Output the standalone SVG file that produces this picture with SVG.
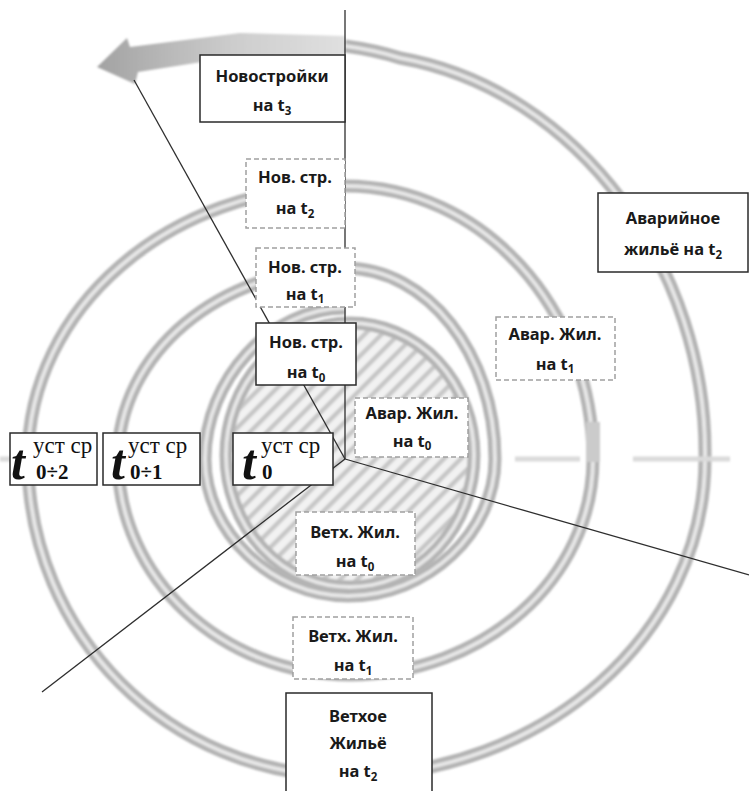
<svg xmlns="http://www.w3.org/2000/svg" width="749" height="791" viewBox="0 0 749 791">
<defs>
<style>
.lbl{font-family:"Noto Sans","Open Sans","DejaVu Sans",sans-serif;font-weight:700;font-size:16.5px;fill:#1a1a1a;text-anchor:middle}
.sub{font-size:11.5px}
.solid{fill:#fff;stroke:#2a2a2a;stroke-width:1.5}
.dash{fill:#fff;stroke:#a0a0a0;stroke-width:1.5;stroke-dasharray:5 3}
.ring{fill:none;stroke:#b4b4b4;stroke-width:13}
.gap{fill:none;stroke:#e6e6e6;stroke-width:4}
.conn{fill:none;stroke:#2e2e2e;stroke-width:1.3}
.tb{font-family:"Liberation Serif","Times New Roman",serif;fill:#111}
</style>
<filter id="blur" x="-5%" y="-5%" width="110%" height="110%"><feGaussianBlur stdDeviation="1.3"/></filter>
<pattern id="hatch" patternUnits="userSpaceOnUse" width="12" height="12" patternTransform="rotate(45)">
<rect width="12" height="12" fill="#f2f2f2"/>
<rect x="0" y="0" width="4.5" height="12" fill="#c6c6c6"/>
</pattern>
<linearGradient id="arrowGrad" x1="97" y1="0" x2="345" y2="0" gradientUnits="userSpaceOnUse">
<stop offset="0" stop-color="#a2a2a2"/>
<stop offset="0.55" stop-color="#cdcdcd"/>
<stop offset="1" stop-color="#e0e0e0"/>
</linearGradient>
<path id="spiral" d="M345 308 C270.5 308 205 380 205 459 C205 532 271.8 596 348 596 C428 596 495 532 495 459 C495 353.6 426.7 268 345 268 C219.7 268 118 353.6 118 459 C118 578.2 221.9 675 350 675 C484.1 675 593 578.2 593 459 C593 308.3 481.9 186 345 186 C168.9 186 28 308.3 28 459 C28 634 168.9 776 345 776 C543.7 776 705 634 705 459 C708 270 580 90 400 58 Q375 50 345 46"/>
</defs>
<rect width="749" height="791" fill="#ffffff"/>
<g id="background" filter="url(#blur)">
<ellipse cx="350" cy="455" rx="118" ry="126" fill="url(#hatch)"/>
<ellipse class="ring" cx="350" cy="455" rx="124" ry="132" stroke-width="11"/>
<ellipse class="gap" cx="350" cy="455" rx="124" ry="132"/>
<use href="#spiral" class="ring"/>
<use href="#spiral" class="gap"/>
<rect x="586" y="422" width="14" height="40" fill="#cbcbcb"/>
<path d="M0 459 H14 M515 459 H580 M633 459 H730" stroke="#dadada" stroke-width="5" fill="none"/>
<path d="M130 47 L240 33 L345 36 L345 56 L240 56 L138 72 L135 84 L97 67 L127 38 Z" fill="url(#arrowGrad)"/>
</g>
<g id="connectors">
<line class="conn" x1="345" y1="10" x2="345" y2="459"/>
<line class="conn" x1="345" y1="459" x2="134" y2="80"/>
<line class="conn" x1="345" y1="459" x2="749" y2="575"/>
<line class="conn" x1="345" y1="459" x2="42" y2="692"/>
</g>
<g id="novostroiki-t3">
<rect class="solid" x="200" y="55" width="145" height="67"/>
<text class="lbl" x="272" y="82">Новостройки</text>
<text class="lbl" x="272" y="111">на t<tspan class="sub" dy="4">3</tspan></text>
</g>
<g id="nov-str-t2">
<rect class="dash" x="246" y="159" width="99" height="69"/>
<text class="lbl" x="295" y="183">Нов. стр.</text>
<text class="lbl" x="295" y="214">на t<tspan class="sub" dy="4">2</tspan></text>
</g>
<g id="nov-str-t1">
<rect class="dash" x="256" y="248" width="99" height="59"/>
<text class="lbl" x="305" y="273">Нов. стр.</text>
<text class="lbl" x="305" y="300">на t<tspan class="sub" dy="3">1</tspan></text>
</g>
<g id="nov-str-t0">
<rect class="solid" x="256" y="323" width="100" height="62"/>
<text class="lbl" x="306" y="348">Нов. стр.</text>
<text class="lbl" x="306" y="378">на t<tspan class="sub" dy="4">0</tspan></text>
</g>
<g id="avar-t0">
<rect class="dash" x="355" y="398" width="113" height="59"/>
<text class="lbl" x="412" y="419">Авар. Жил.</text>
<text class="lbl" x="412" y="447">на t<tspan class="sub" dy="3">0</tspan></text>
</g>
<g id="avar-t1">
<rect class="dash" x="496" y="317" width="119" height="63"/>
<text class="lbl" x="555" y="340">Авар. Жил.</text>
<text class="lbl" x="555" y="370">на t<tspan class="sub" dy="3">1</tspan></text>
</g>
<g id="avar-t2">
<rect class="solid" x="598" y="193" width="150" height="79"/>
<text class="lbl" x="673" y="224">Аварийное</text>
<text class="lbl" x="673" y="255">жильё на t<tspan class="sub" dy="4">2</tspan></text>
</g>
<g id="veth-t0">
<rect class="dash" x="296" y="512" width="119" height="63"/>
<text class="lbl" x="355" y="538">Ветх. Жил.</text>
<text class="lbl" x="355" y="567">на t<tspan class="sub" dy="4">0</tspan></text>
</g>
<g id="veth-t1">
<rect class="dash" x="293" y="617" width="120" height="62"/>
<text class="lbl" x="353" y="642">Ветх. Жил.</text>
<text class="lbl" x="353" y="671">на t<tspan class="sub" dy="4">1</tspan></text>
</g>
<g id="veth-t2">
<rect class="solid" x="286" y="693" width="146" height="110"/>
<text class="lbl" x="358" y="722">Ветхое</text>
<text class="lbl" x="358" y="749">Жильё</text>
<text class="lbl" x="358" y="777">на t<tspan class="sub" dy="4">2</tspan></text>
</g>
<g id="t0-2">
<rect class="solid" x="10" y="433" width="87" height="52"/>
<text class="tb" x="11" y="479" font-size="50" font-weight="700" font-style="italic">t</text>
<text class="tb" x="33" y="453" font-size="23">уст ср</text>
<text class="tb" x="36" y="479" font-size="21" font-weight="700">0÷2</text>
</g>
<g id="t0-1">
<rect class="solid" x="103" y="433" width="97" height="52"/>
<text class="tb" x="111" y="479" font-size="50" font-weight="700" font-style="italic">t</text>
<text class="tb" x="128" y="453" font-size="23">уст ср</text>
<text class="tb" x="130" y="479" font-size="21" font-weight="700">0÷1</text>
</g>
<g id="t0">
<rect class="solid" x="233" y="433" width="100" height="52"/>
<text class="tb" x="242" y="479" font-size="50" font-weight="700" font-style="italic">t</text>
<text class="tb" x="261" y="453" font-size="23">уст ср</text>
<text class="tb" x="262" y="479" font-size="21" font-weight="700">0</text>
</g>
</svg>
